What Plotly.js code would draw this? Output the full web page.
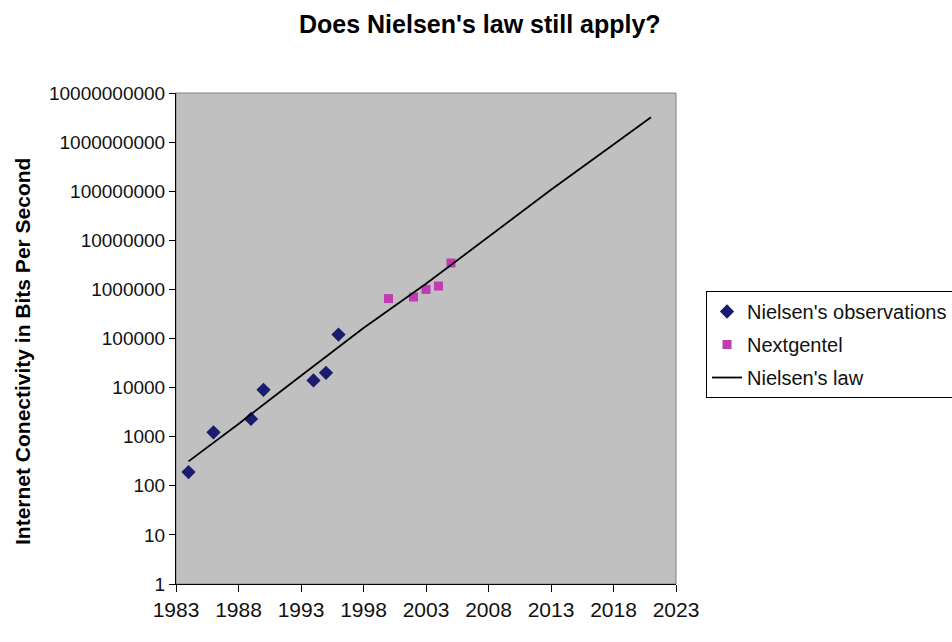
<!DOCTYPE html>
<html>
<head>
<meta charset="utf-8">
<script src="https://cdn.plot.ly/plotly-3.0.1.min.js"></script>
<style>html,body{margin:0;padding:0;background:#fff;}#chart{width:952px;height:642px;}</style>
</head>
<body>
<div id="chart"></div>
<script>
// Nielsen's observations
var obsYears = [1984, 1986, 1989, 1990, 1994, 1995, 1996];
var obsBps   = [190, 1230, 2300, 9000, 14000, 20000, 120000];
// Nextgentel
var ngYears = [2000, 2002, 2003, 2004, 2005];
var ngBps   = [650000, 700000, 1000000, 1170000, 3450000];
// Nielsen's law
var lawYears = [1984, 1988, 1993, 1998, 2003, 2008, 2013, 2018, 2021];
var lawBps   = [314, 1820, 17500, 163000, 1300000, 12000000, 107000000, 890000000, 3200000000];
// tick labels
var yTickVals = [1, 10, 100, 1000, 10000, 100000, 1000000, 10000000, 100000000, 1000000000, 10000000000];
var yTickText = ["1", "10", "100", "1000", "10000", "100000", "1000000", "10000000", "100000000", "1000000000", "10000000000"];
var xTickVals = [1983, 1988, 1993, 1998, 2003, 2008, 2013, 2018, 2023];
var xTickText = ["1983", "1988", "1993", "1998", "2003", "2008", "2013", "2018", "2023"];

var traces = [
  {x: obsYears, y: obsBps, name: "Nielsen's observations", mode: "markers", type: "scatter",
   legendgroup: "a", marker: {symbol: "diamond", size: 11, color: "#1c1c6e"}},
  {x: ngYears, y: ngBps, name: "Nextgentel", mode: "markers", type: "scatter",
   legendgroup: "b", marker: {symbol: "square", size: 9, color: "#c03cb2"}},
  {x: lawYears, y: lawBps, name: "Nielsen's law", mode: "lines", type: "scatter",
   legendgroup: "c", line: {color: "#000000", width: 1.8}}
];

var layout = {
  width: 952, height: 642,
  margin: {l: 176, r: 276, t: 93, b: 58},
  paper_bgcolor: "#ffffff",
  plot_bgcolor: "#c0c0c0",
  font: {family: "Arial, 'Liberation Sans', sans-serif", color: "#000"},
  title: {text: "<b>Does Nielsen's law still apply?</b>", x: 0.504, xanchor: "center", xref: "container",
          y: 0.962, yanchor: "middle", yref: "container", font: {size: 25, color: "#000"}},
  xaxis: {
    range: [1983, 2023], tickvals: xTickVals, ticktext: xTickText,
    showgrid: false, zeroline: false, showline: true, linecolor: "#000", linewidth: 1,
    ticks: "outside", ticklen: 7, tickcolor: "#000", tickfont: {size: 21, color: "#111"}
  },
  yaxis: {
    type: "log", range: [0, 10], tickvals: yTickVals, ticktext: yTickText,
    showgrid: false, zeroline: false, showline: true, linecolor: "#000", linewidth: 1,
    ticks: "outside", ticklen: 6, tickcolor: "#000", tickfont: {size: 19, color: "#111"}
  },
  shapes: [{type: "rect", xref: "paper", yref: "paper", x0: 0, x1: 1, y0: 0, y1: 1,
            line: {color: "#808080", width: 1}, layer: "below"}],
  annotations: [{text: "<b>Internet Conectivity in Bits Per Second</b>", textangle: -90,
                 xref: "paper", yref: "paper", x: -0.308, y: 0.4725, xanchor: "center", yanchor: "middle",
                 showarrow: false, font: {size: 21, color: "#000"}}],
  showlegend: true,
  legend: {xref: "container", yref: "container", x: 0.7416, xanchor: "left", y: 0.5467, yanchor: "top",
           bgcolor: "#ffffff", bordercolor: "#000", borderwidth: 1,
           font: {size: 20, color: "#111"}, traceorder: "grouped", tracegroupgap: 4}
};

Plotly.newPlot("chart", traces, layout, {displayModeBar: false, staticPlot: true});
</script>
</body>
</html>
